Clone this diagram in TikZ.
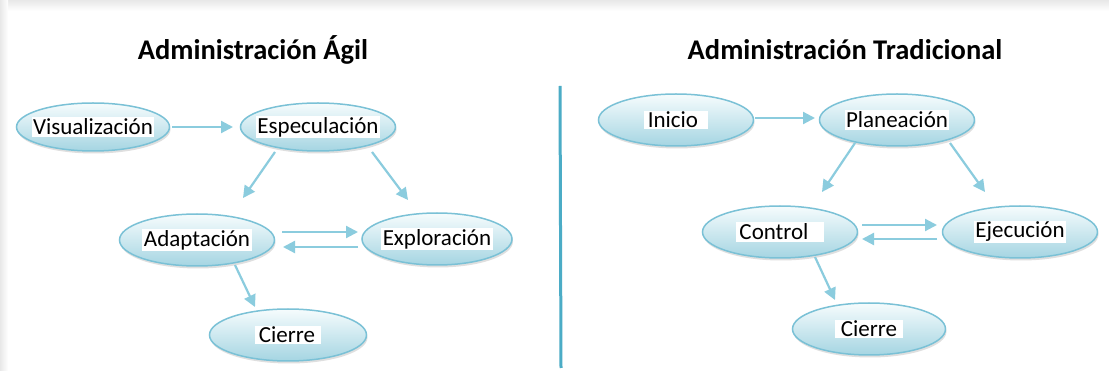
\documentclass[tikz,border=0pt]{standalone}
\usepackage{fontspec}
\setmainfont{Carlito}
\usetikzlibrary{shapes.geometric,arrows.meta,shadows,calc}
\definecolor{arrowc}{RGB}{139,204,222}
\definecolor{divc}{RGB}{75,172,198}
\definecolor{ellb}{RGB}{122,193,214}
\definecolor{elltop}{RGB}{246,252,253}
\definecolor{ellbot}{RGB}{165,213,226}
\definecolor{bandc}{RGB}{232,232,232}
\tikzset{
  stage/.style={ellipse, draw=ellb, line width=1.5pt, top color=elltop, bottom color=ellbot,
    minimum width=155pt, minimum height=52pt, inner sep=0pt, font=\fontsize{23}{26}\selectfont,
    drop shadow={opacity=0.25, shadow xshift=1pt, shadow yshift=-2.5pt}},
  flow/.style={draw=arrowc, line width=2.2pt, -{Triangle[length=12pt,width=12pt]}},
  title/.style={font=\fontsize{28.5}{32}\selectfont\bfseries}
}
\newcommand{\wb}[1]{\makebox[0pt]{\colorbox{white}{#1}}}
\setlength{\fboxsep}{1.5pt}
\begin{document}
\begin{tikzpicture}[x=1pt,y=-1pt]
\useasboundingbox (0,0) rectangle (1109,371);
\fill[white] (0,0) rectangle (1109,371);
\shade[top color=bandc, bottom color=white] (0,0) rectangle (1109,11);
\shade[left color=bandc, right color=white] (0,0) rectangle (8,371);
% titles
\node[title] (t1) at (253,50) {Administración Ágil};
\node[title] (t2) at (845,50) {Administración Tradicional};
% divider
\coordinate (d1) at (560,86);
\coordinate (d2) at (561,368);
\draw[divc, line width=3pt] (d1) -- (d2);
% left diagram
\node[stage, minimum height=48pt, minimum width=153pt] (vis) at (93,127) {\wb{Visualización}};
\node[stage, minimum height=48pt] (esp) at (318,127) {\wb{Especulación}};
\node[stage] (ada) at (197,240) {\wb{Adaptación}};
\node[stage, minimum width=150pt] (exp) at (437,239) {\raisebox{3pt}{\wb{Exploración}}};
\node[stage, minimum width=157pt] (cie1) at (288,335) {\wb{\hspace{2pt}Cierre\hspace{4pt}}};
\draw[flow] ($(vis)+(79,0)$) -- ($(esp)+(-85,0)$);
\draw[flow] ($(esp)+(-43,25)$) -- ($(ada)+(46,-42)$);
\draw[flow] ($(esp)+(54,25)$) -- ($(exp)+(-29,-39)$);
\draw[flow] ($(ada)+(85,-8)$) -- ($(exp)+(-79,-7)$);
\draw[flow] ($(exp)+(-79,8)$) -- ($(ada)+(86,7)$);
\draw[flow] ($(ada)+(38,25)$) -- ($(cie1)+(-33,-28)$);
% right diagram
\node[stage] (ini) at (676,120) {\wb{\hspace{2pt}Inicio\hspace{8pt}}};
\node[stage] (pla) at (897,120) {\wb{Planeación}};
\node[stage] (con) at (780,232) {\wb{\hspace{2pt}Control\hspace{14pt}}};
\node[stage] (eje) at (1020,232) {\raisebox{3pt}{\wb{Ejecución}}};
\node[stage, minimum width=153pt] (cie2) at (869,329) {\wb{\hspace{4pt}Cierre\hspace{4pt}}};
\draw[flow] ($(ini)+(79,-2)$) -- ($(pla)+(-82,-2)$);
\draw[flow] ($(pla)+(-42,23)$) -- ($(con)+(42,-40)$);
\draw[flow] ($(pla)+(53,23)$) -- ($(eje)+(-35,-40)$);
\draw[flow] ($(con)+(82,-7)$) -- ($(eje)+(-83,-7)$);
\draw[flow] ($(eje)+(-83,7)$) -- ($(con)+(82,7)$);
\draw[flow] ($(con)+(35,25)$) -- ($(cie2)+(-34,-29)$);
\end{tikzpicture}
\end{document}
